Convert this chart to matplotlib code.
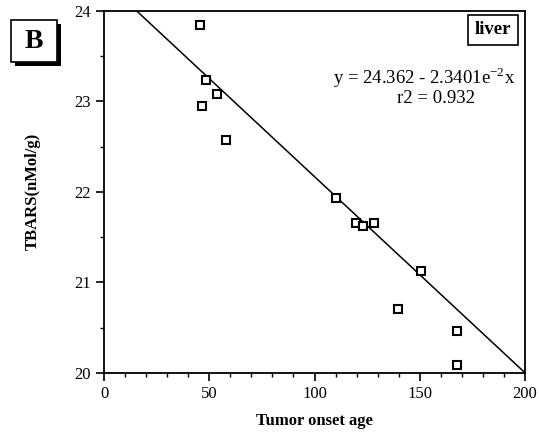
import matplotlib
matplotlib.use("Agg")
import matplotlib.pyplot as plt
from matplotlib.ticker import MultipleLocator
from matplotlib.patches import Rectangle

# data
onset_age = [45.6, 46.6, 48.5, 53.7, 58.0, 110.0, 119.7, 123.2, 128.1, 139.8, 150.7, 167.5, 167.7]
tbars = [23.84, 22.95, 23.24, 23.08, 22.57, 21.93, 21.66, 21.62, 21.66, 20.70, 21.13, 20.46, 20.09]

# regression line as drawn in the figure
fit_x = [0, 200]
fit_y = [24.336, 20.0]

eq_text = "y = 24.362 - 2.3401e$^{\\mathrm{-2}}$x"
r2_text = "r2 = 0.932"

plt.rcParams['font.family'] = ['Liberation Serif', 'DejaVu Serif']
plt.rcParams['mathtext.fontset'] = 'custom'
plt.rcParams['mathtext.rm'] = 'Liberation Serif'

fig = plt.figure(figsize=(5.39, 4.36), dpi=100)
ax = fig.add_axes([0.193, 0.145, 0.781, 0.83])

ax.plot(fit_x, fit_y, color='black', lw=1.1)
ax.plot(onset_age, tbars, linestyle='none', marker='s', markersize=5.5,
        markerfacecolor='white', markeredgecolor='black', markeredgewidth=1.5)

ax.set_xlim(0, 200)
ax.set_ylim(20, 24)
ax.xaxis.set_major_locator(MultipleLocator(50))
ax.xaxis.set_minor_locator(MultipleLocator(10))
ax.yaxis.set_major_locator(MultipleLocator(1))
ax.yaxis.set_minor_locator(MultipleLocator(0.5))
ax.tick_params(which='major', direction='out', length=6, width=1.2, labelsize=12, colors='black')
ax.tick_params(which='minor', direction='out', length=3, width=1.0)
for s in ax.spines.values():
    s.set_linewidth(1.3)

ax.set_xlabel('Tumor onset age', fontsize=12, fontweight='bold', labelpad=8)
ax.set_ylabel('TBARS(nMol/g)', fontsize=12, fontweight='bold', labelpad=24)

ax.text(0.760, 0.815, eq_text, transform=ax.transAxes, ha='center', va='center', fontsize=13.5)
ax.text(0.789, 0.758, r2_text, transform=ax.transAxes, ha='center', va='center', fontsize=13.5)
ax.text(0.968, 0.948, 'liver', transform=ax.transAxes, ha='right', va='center',
        fontsize=13.5, fontweight='bold',
        bbox=dict(boxstyle='square,pad=0.35', facecolor='white', edgecolor='black', lw=1.2))

# "B" panel label with drop shadow
fig.patches.append(Rectangle((15 / 539, 1 - 66 / 436), 46 / 539, 42 / 436,
                             transform=fig.transFigure, facecolor='black', edgecolor='none'))
fig.patches.append(Rectangle((11 / 539, 1 - 62 / 436), 46 / 539, 42 / 436,
                             transform=fig.transFigure, facecolor='white', edgecolor='black', lw=1.2))
fig.text(34 / 539, 1 - 41 / 436, 'B', ha='center', va='center', fontsize=20, fontweight='bold')

fig.savefig('out.png', dpi=100)
